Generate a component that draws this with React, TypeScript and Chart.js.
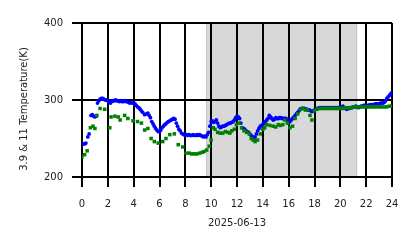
import React, { useEffect, useRef } from "react";
import { Chart, registerables } from "chart.js";

Chart.register(...registerables);

const blueHours = [
  0.0, 0.1, 0.2, 0.3, 0.45, 0.55, 0.7, 0.8, 0.9, 1.0, 1.1, 1.2, 1.3, 1.4, 1.5, 1.6, 1.7, 1.8, 1.9, 2.0,
  2.1, 2.2, 2.3, 2.4, 2.5, 2.6, 2.7, 2.8, 2.9, 3.0, 3.1, 3.2, 3.3, 3.4, 3.5, 3.6, 3.7, 3.8, 3.9, 4.0,
  4.1, 4.2, 4.3, 4.4, 4.5, 4.6, 4.7, 4.85, 5.0, 5.1, 5.2, 5.3, 5.4, 5.5, 5.6, 5.7, 5.8, 5.9, 6.0, 6.1,
  6.2, 6.3, 6.4, 6.5, 6.6, 6.7, 6.8, 6.9, 7.0, 7.1, 7.2, 7.3, 7.4, 7.5, 7.6, 7.7, 7.8, 7.9, 8.0, 8.1,
  8.2, 8.3, 8.4, 8.5, 8.6, 8.7, 8.8, 8.9, 9.0, 9.1, 9.2, 9.3, 9.4, 9.5, 9.6, 9.7, 9.8, 9.9, 10.0, 10.1,
  10.2, 10.3, 10.4, 10.5, 10.6, 10.7, 10.8, 10.9, 11.0, 11.1, 11.2, 11.3, 11.4, 11.5, 11.6, 11.7, 11.8, 11.9, 12.0, 12.1,
  12.2, 12.3, 12.4, 12.5, 12.6, 12.7, 12.8, 12.9, 13.0, 13.1, 13.2, 13.3, 13.4, 13.5, 13.6, 13.7, 13.8, 13.9, 14.0, 14.1,
  14.2, 14.3, 14.4, 14.5, 14.6, 14.7, 14.8, 14.9, 15.0, 15.1, 15.2, 15.3, 15.4, 15.5, 15.6, 15.7, 15.8, 15.9, 16.0, 16.1,
  16.2, 16.3, 16.4, 16.5, 16.6, 16.7, 16.8, 16.9, 17.0, 17.1, 17.2, 17.3, 17.4, 17.5, 17.6, 17.7, 17.8, 17.9, 18.0, 18.1,
  18.2, 18.3, 18.4, 18.5, 18.6, 18.7, 18.8, 18.9, 19.0, 19.1, 19.2, 19.3, 19.4, 19.5, 19.6, 19.7, 19.8, 19.9, 20.0, 20.1,
  20.2, 20.3, 20.4, 20.5, 20.6, 20.7, 20.8, 20.9, 21.0, 21.1, 21.2, 21.3, 21.4, 21.5, 21.6, 21.7, 21.8, 21.9, 22.0, 22.1,
  22.2, 22.3, 22.4, 22.5, 22.6, 22.7, 22.8, 22.9, 23.0, 23.1, 23.2, 23.3, 23.4, 23.5, 23.6, 23.7, 23.8, 23.9, 24.0,
];
const blueTemps = [
  243, 243, 243, 244, 252, 256, 280, 281, 279, 278, 279, 296, 299, 301, 302, 302, 301, 300, 300, 299,
  297, 296, 298, 299, 299, 300, 299, 299, 298, 299, 298, 298, 299, 298, 298, 297, 296, 297, 296, 296,
  295, 293, 291, 290, 288, 286, 284, 281, 282, 283, 280, 277, 272, 269, 266, 263, 261, 259, 259, 261,
  264, 266, 268, 269, 271, 272, 273, 274, 275, 276, 275, 270, 266, 262, 260, 257, 256, 255, 254, 255,
  254, 255, 254, 254, 255, 254, 254, 255, 254, 255, 254, 253, 252, 253, 252, 255, 258, 266, 272, 273,
  271, 272, 274, 270, 266, 264, 265, 266, 266, 267, 268, 269, 270, 270, 271, 272, 274, 277, 279, 278,
  276, 270, 264, 263, 262, 260, 259, 258, 256, 254, 252, 249, 252, 256, 260, 263, 266, 267, 268, 270,
  272, 274, 276, 280, 278, 276, 274, 275, 277, 276, 276, 277, 277, 276, 276, 276, 276, 274, 270, 272,
  274, 276, 278, 280, 282, 284, 286, 288, 289, 289, 289, 288, 288, 287, 287, 286, 285, 286, 287, 288,
  289, 289, 290, 290, 290, 290, 290, 290, 290, 290, 290, 290, 290, 290, 290, 290, 290, 290, 290, 291,
  292, 290, 289, 288, 289, 289, 290, 290, 291, 291, 292, 291, 290, 291, 292, 292, 293, 293, 293, 293,
  293, 294, 294, 294, 294, 295, 295, 295, 295, 296, 296, 296, 297, 299, 302, 304, 306, 308, 310,
];

const greenHours = [
  0.0, 0.2, 0.4, 0.65, 0.85, 1.0, 1.15, 1.4, 1.75, 2.15, 2.25, 2.55, 2.8, 2.95, 3.3, 3.55, 3.95, 4.3, 4.6, 4.85,
  5.1, 5.35, 5.6, 5.9, 6.25, 6.5, 6.8, 7.15, 7.45, 7.8, 8.05, 8.3, 8.5, 8.7, 8.9, 9.1, 9.3, 9.45, 9.65, 9.85,
  10.0, 10.15, 10.3, 10.5, 10.7, 10.9, 11.1, 11.3, 11.45, 11.6, 11.8, 11.95, 12.15, 12.35, 12.55, 12.75, 12.95, 13.1, 13.25, 13.4,
  13.6, 13.8, 14.0, 14.15, 14.3, 14.55, 14.8, 15.0, 15.2, 15.35, 15.55, 15.7, 15.9, 16.1, 16.3, 16.5, 16.7, 16.9, 17.1, 17.3,
  17.45, 17.65, 17.8, 18.0, 18.2, 18.4, 18.6, 18.8, 19.0, 19.2, 19.4, 19.6, 19.8, 20.0, 20.2, 20.4, 20.6, 20.8, 21.0, 21.2,
  21.4, 21.6, 21.8, 22.0, 22.2, 22.4, 22.6, 22.8, 23.0, 23.2, 23.4, 23.6, 23.8, 24.0,
];
const greenTemps = [
  226, 229, 234, 264, 266, 263, 280, 289, 288, 264, 278, 279, 278, 274, 280, 276, 273, 272, 270, 261,
  263, 250, 246, 244, 246, 250, 255, 256, 242, 239, 231, 231, 230, 230, 230, 231, 232, 233, 235, 240,
  248, 264, 262, 258, 257, 257, 259, 258, 257, 260, 262, 268, 270, 264, 260, 258, 256, 250, 248, 246,
  248, 256, 262, 264, 268, 267, 266, 265, 268, 267, 268, 274, 270, 264, 266, 276, 282, 288, 289, 287,
  287, 280, 274, 286, 288, 289, 289, 289, 289, 289, 289, 289, 289, 289, 289, 290, 290, 290, 291, 291,
  291, 291, 291, 291, 291, 291, 291, 291, 291, 291, 291, 291, 292, 292,
];

const xTicks = [0, 2, 4, 6, 8, 10, 12, 14, 16, 18, 20, 22, 24];
const yTicks = [200, 300, 400];
const shadeStart = 9.6;
const shadeEnd = 21.3;
const dateLabel = "2025-06-13";
const yLabel = "3.9 & 11 Temperature(K)";

const shadePlugin = {
  id: "shade",
  beforeDraw(chart: any) {
    const { ctx, chartArea, scales } = chart;
    const x0 = scales.x.getPixelForValue(shadeStart);
    const x1 = scales.x.getPixelForValue(shadeEnd);
    ctx.save();
    ctx.fillStyle = "#d8d8d8";
    ctx.fillRect(x0, chartArea.top, x1 - x0, chartArea.bottom - chartArea.top);
    ctx.strokeStyle = "#c4c4c4";
    ctx.lineWidth = 1;
    ctx.beginPath();
    ctx.moveTo(x0 + 0.5, chartArea.top);
    ctx.lineTo(x0 + 0.5, chartArea.bottom);
    ctx.moveTo(x1 - 0.5, chartArea.top);
    ctx.lineTo(x1 - 0.5, chartArea.bottom);
    ctx.stroke();
    ctx.restore();
  },
  afterDraw(chart: any) {
    const { ctx, chartArea } = chart;
    ctx.save();
    ctx.translate(24, (chartArea.top + chartArea.bottom) / 2 + 9);
    ctx.rotate(-Math.PI / 2);
    ctx.font = "10px 'DejaVu Sans'";
    ctx.fillStyle = "#222";
    ctx.textAlign = "center";
    ctx.textBaseline = "middle";
    ctx.fillText(yLabel, 0, 0);
    ctx.restore();
  },
};

export default function App() {
  const ref = useRef<HTMLCanvasElement>(null);
  useEffect(() => {
    document.body.style.margin = "0";
    const font = { family: "DejaVu Sans", size: 10 };
    const chart = new Chart(ref.current!, {
      type: "scatter",
      data: {
        datasets: [
          {
            data: blueHours.map((h, i) => ({ x: h, y: blueTemps[i] })),
            pointStyle: "circle",
            pointRadius: 1.9,
            borderWidth: 0,
            backgroundColor: "#0000ff",
            order: 2,
          },
          {
            data: greenHours.map((h, i) => ({ x: h, y: greenTemps[i] })),
            pointStyle: "rect",
            pointRadius: 2.5,
            borderWidth: 0,
            backgroundColor: "#008000",
            order: 1,
          },
        ],
      },
      options: {
        animation: false,
        responsive: false,
        events: [],
        layout: { padding: { top: 23, right: 26, left: 0, bottom: 0 } },
        plugins: { legend: { display: false }, tooltip: { enabled: false } },
        scales: {
          x: {
            type: "linear",
            min: 0,
            max: 24,
            afterBuildTicks: (s: any) => {
              s.ticks = xTicks.map((v) => ({ value: v }));
            },
            afterFit: (s: any) => {
              s.height = 71;
            },
            grid: { color: "#000", lineWidth: 2, tickLength: 10, tickColor: "#000" },
            border: { display: true, color: "#000", width: 2 },
            ticks: { color: "#222", font, padding: 11, maxRotation: 0, autoSkip: false },
            title: {
              display: true,
              text: dateLabel,
              color: "#222",
              font,
              padding: { top: 4, bottom: 19 },
            },
          },
          y: {
            type: "linear",
            min: 200,
            max: 400,
            afterBuildTicks: (s: any) => {
              s.ticks = yTicks.map((v) => ({ value: v }));
            },
            afterFit: (s: any) => {
              s.width = 82;
            },
            grid: { color: "#000", lineWidth: 2, tickLength: 10, tickColor: "#000" },
            border: { display: true, color: "#000", width: 2 },
            ticks: { color: "#222", font, padding: 9 },
            title: { display: false },
          },
        },
      },
      plugins: [shadePlugin],
    });
    return () => chart.destroy();
  }, []);
  return (
    <div style={{ position: "absolute", left: 0, top: 0, width: 418, height: 248, background: "#fff" }}>
      <canvas ref={ref} width={418} height={248} style={{ width: 418, height: 248 }} />
    </div>
  );
}
